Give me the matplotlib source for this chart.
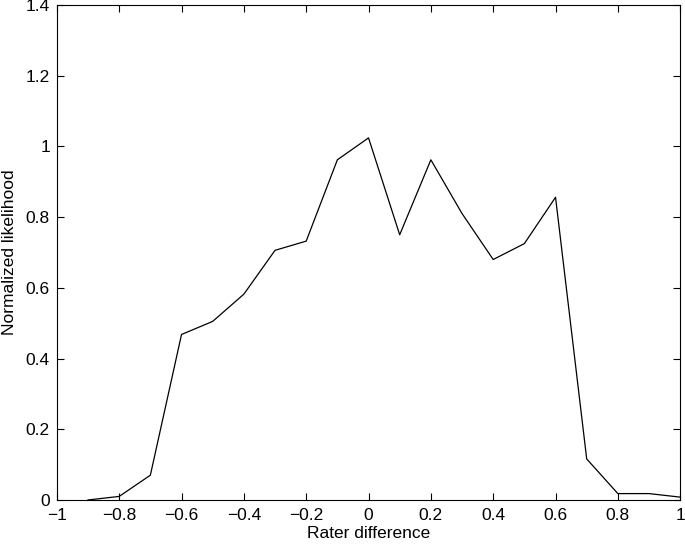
import numpy as np
import matplotlib.pyplot as plt

plt.rcParams['font.family'] = 'Liberation Sans'
plt.rcParams['xtick.direction'] = 'in'
plt.rcParams['ytick.direction'] = 'in'

rater_diff = [-0.9, -0.8, -0.7, -0.6, -0.5, -0.4, -0.3, -0.2, -0.1, 0.0,
              0.1, 0.2, 0.3, 0.4, 0.5, 0.6, 0.7, 0.8, 0.9, 1.0]
likelihood = [0.0, 0.01, 0.07, 0.468, 0.505, 0.582, 0.706, 0.732, 0.962, 1.024,
              0.75, 0.962, 0.81, 0.68, 0.725, 0.856, 0.116, 0.018, 0.018, 0.008]
xticks = [-1, -0.8, -0.6, -0.4, -0.2, 0, 0.2, 0.4, 0.6, 0.8, 1]
yticks = [0, 0.2, 0.4, 0.6, 0.8, 1, 1.2, 1.4]

fig = plt.figure(figsize=(6.85, 5.47), dpi=100)
ax = fig.add_axes([0.083, 0.086, 0.910, 0.905])
ax.plot(rater_diff, likelihood, c="k", lw=0.9)
ax.set_xlim(-1, 1)
ax.set_ylim(0, 1.4)
ax.set_xticks(xticks)
ax.set_yticks(yticks)
ax.set_xticklabels([("\u2212" if t < 0 else "") + ("%g" % abs(t)) for t in xticks])
ax.set_yticklabels(["%g" % t for t in yticks])
ax.tick_params(top=True, right=True, labelsize=12.5, length=5, width=0.8)
ax.tick_params(axis='x', pad=6)
ax.tick_params(axis='y', pad=5)
ax.set_xlabel("Rater difference", fontsize=12.5, labelpad=2)
ax.set_ylabel("Normalized likelihood", fontsize=12.5, labelpad=6)
for s in ax.spines.values():
    s.set_linewidth(0.8)
fig.savefig("out.png", dpi=100)
